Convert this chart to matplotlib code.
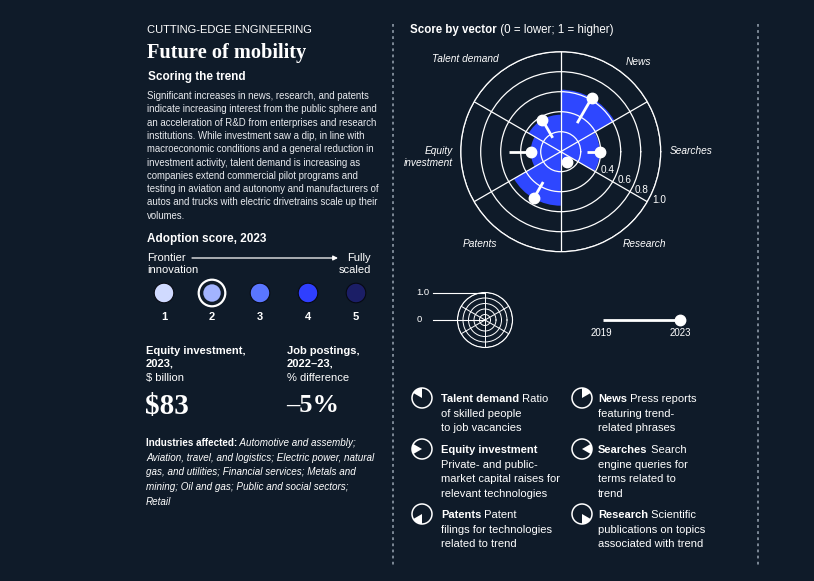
import matplotlib
matplotlib.use("Agg")
import matplotlib.pyplot as plt
import numpy as np
from matplotlib.patches import Circle, Wedge

W, H = 814, 581
BG = "#0f1b29"
BLUE = "#2e47ff"
SANS = ["Liberation Sans", "DejaVu Sans"]
SERIF = ["Liberation Serif", "DejaVu Serif"]

# --- data ---
vectors = ["Talent demand", "News", "Searches", "Research", "Patents", "Equity\ninvestment"]
vector_angles = [120, 60, 0, -60, -120, 180]          # sector centres, degrees
score_2019 = [0.16, 0.33, 0.26, 0.07, 0.35, 0.52]
score_2023 = [0.37, 0.62, 0.39, 0.12, 0.54, 0.30]
ring_values = [0.2, 0.4, 0.6, 0.8, 1.0]
ring_labels = ["0.4", "0.6", "0.8", "1.0"]

adoption_levels = [1, 2, 3, 4, 5]
adoption_colors = ["#d0daff", "#a2b4ff", "#5a76ff", "#2f3fff", "#1b1e66"]
adoption_current = 2

equity_value = "$83"
job_change = "\u20135%"

paragraph = [
    "Significant increases in news, research, and patents",
    "indicate increasing interest from the public sphere and",
    "an acceleration of R&D from enterprises and research",
    "institutions. While investment saw a dip, in line with",
    "macroeconomic conditions and a general reduction in",
    "investment activity, talent demand is increasing as",
    "companies extend commercial pilot programs and",
    "testing in aviation and autonomy and manufacturers of",
    "autos and trucks with electric drivetrains scale up their",
    "volumes.",
]
industries = [
    "Automotive and assembly;",
    "Aviation, travel, and logistics; Electric power, natural",
    "gas, and utilities; Financial services; Metals and",
    "mining; Oil and gas; Public and social sectors;",
    "Retail",
]
legend_items = [
    ("Talent demand", " Ratio", ["of skilled people", "to job vacancies"], 120),
    ("Equity investment", "", ["Private- and public-", "market capital raises for", "relevant technologies"], 180),
    ("Patents", " Patent", ["filings for technologies", "related to trend"], -120),
    ("News", " Press reports", ["featuring trend-", "related phrases"], 60),
    ("Searches", " Search", ["engine queries for", "terms related to", "trend"], 0),
    ("Research", " Scientific", ["publications on topics", "associated with trend"], -60),
]

plt.rcParams["font.family"] = SANS
fig = plt.figure(figsize=(W / 100, H / 100), dpi=100, facecolor=BG)
ax = fig.add_axes([0, 0, 1, 1])
ax.set_xlim(0, W)
ax.set_ylim(H, 0)
ax.axis("off")
ax.set_facecolor(BG)


def txt(x, y, s, size=8, weight="normal", style="normal", ha="left", color="white", family=None, **kw):
    return ax.text(x, y, s, fontsize=size, fontweight=weight, fontstyle=style, ha=ha, va="center",
                   color=color, family=family or SANS, **kw)


def after(t, s, size=8, weight="normal", style="normal"):
    return ax.annotate(s, xy=(1, 0.5), xycoords=t, ha="left", va="center", fontsize=size,
                       fontweight=weight, fontstyle=style, color="white", family=SANS)


# dashed separators
for x in (393, 757.5):
    ax.plot([x, x], [24, 565], color="#9aa6b3", lw=1.1, ls=(0, (1.8, 2.2)))

# --- left column ---
txt(147, 30, "CUTTING-EDGE ENGINEERING", size=8)
txt(147, 53, "Future of mobility", size=14.7, weight="bold", family=SERIF)
txt(148, 77, "Scoring the trend", size=8.5, weight="bold")
for i, line in enumerate(paragraph):
    txt(147, 96 + i * 13.3, line, size=6.95, color="#e8eaee")

txt(147, 239, "Adoption score, 2023", size=8.5, weight="bold")
txt(147, 258, "Frontier", size=8)
txt(147, 270, "innovation", size=8)
txt(371, 258, "Fully", size=8, ha="right")
txt(371, 270, "scaled", size=8, ha="right")
ax.annotate("", xy=(338, 258), xytext=(192, 258),
            arrowprops=dict(arrowstyle="-|>", color="white", lw=0.9, mutation_scale=7, shrinkA=0, shrinkB=0))

ax_x = [164 + 48 * (lv - 1) for lv in adoption_levels]
for x, lv, c in zip(ax_x, adoption_levels, adoption_colors):
    if lv == adoption_current:
        ax.add_patch(Circle((x, 293), 13.3, fc="none", ec="white", lw=1.6))
        ax.add_patch(Circle((x, 293), 8.7, fc=c, ec="none"))
    else:
        ax.add_patch(Circle((x, 293), 9.8, fc=c, ec="#070a12", lw=0.8))
    txt(x, 317, str(lv), size=8, weight="bold", ha="center")

txt(146, 351, "Equity investment,", size=8, weight="bold")
txt(146, 364, "2023,", size=8, weight="bold")
txt(146, 378, "$ billion", size=8)
txt(145, 406, equity_value, size=21, weight="bold", family=SERIF)
txt(287, 351, "Job postings,", size=8, weight="bold")
txt(287, 364, "2022\u201323,", size=8, weight="bold")
txt(287, 378, "% difference", size=8)
txt(286, 406, job_change, size=19, weight="bold", family=SERIF)

t = txt(146, 443, "Industries affected:", size=7.1, weight="bold")
after(t, " " + industries[0], size=7.1, style="italic")
for i, line in enumerate(industries[1:], start=1):
    txt(146, 443 + i * 14.7, line, size=7.1, style="italic")

# --- right column: radar ---
t = txt(410, 30, "Score by vector", size=8.3, weight="bold")
after(t, " (0 = lower; 1 = higher)", size=8.3)

cx, cy, R = 560.7, 151.7, 100
pax = fig.add_axes([(cx - R) / W, (H - cy - R) / H, 2 * R / W, 2 * R / H], projection="polar")
pax.set_facecolor("none")
pax.set_ylim(0, 1)
pax.set_thetagrids([30, 90, 150, 210, 270, 330], labels=[""] * 6)
pax.set_rgrids(ring_values, labels=[""] * len(ring_values))
pax.grid(True, color="white", lw=0.9)
pax.spines["polar"].set_color("white")
pax.spines["polar"].set_linewidth(0.9)
pax.set_axisbelow(False)
pax.tick_params(length=0)

theta = np.deg2rad(vector_angles)
pax.bar(theta, score_2023, width=np.pi / 3, color=BLUE, lw=0, zorder=1)
for a, s0, s1 in zip(theta, score_2019, score_2023):
    pax.plot([a, a], [s0, s1], color="white", lw=2, solid_capstyle="butt", zorder=4)
pax.plot(theta, score_2023, "o", ls="none", color="white", ms=7.5, zorder=5)
for lbl, r in zip(ring_labels, ring_values[1:]):
    pax.annotate(lbl, xy=(np.deg2rad(-30), r), xytext=(3.5, 1.5), textcoords="offset points",
                 ha="left", va="center", fontsize=7.2, color="white", annotation_clip=False)

label_pos = [(465, 59, "center"), (638, 62, "center"), (691, 151, "center"),
             (644, 244, "center"), (480, 244, "center"), (453, 157, "right")]
for name, (x, y, ha) in zip(vectors, label_pos):
    ax.text(x, y, name, fontsize=7.3, fontstyle="italic", color="white", ha=ha, va="center",
            family=SANS, multialignment="right", linespacing=1.3)

# --- small scale legend ---
sx, sy, sr = 485, 320, 27.5
sax = fig.add_axes([(sx - sr) / W, (H - sy - sr) / H, 2 * sr / W, 2 * sr / H], projection="polar")
sax.set_facecolor("none")
sax.set_ylim(0, 1)
sax.set_thetagrids([30, 90, 150, 210, 270, 330], labels=[""] * 6)
sax.set_rgrids(ring_values, labels=[""] * len(ring_values))
sax.grid(True, color="white", lw=0.7)
sax.spines["polar"].set_color("white")
sax.spines["polar"].set_linewidth(0.8)
sax.tick_params(length=0)
ax.plot([433, sx], [sy - sr, sy - sr], color="white", lw=0.8)
ax.plot([433, sx], [sy, sy], color="white", lw=0.8)
txt(423, sy - sr, "1.0", size=6.8, ha="center")
txt(419, sy, "0", size=6.8, ha="center")

# year legend
ax.plot([603, 680], [320, 320], color="white", lw=2, solid_capstyle="butt")
ax.plot([680], [320], "o", color="white", ms=7.5)
txt(601, 333, "2019", size=7, ha="center")
txt(680, 333, "2023", size=7, ha="center")

# --- vector legend ---
rows_y = [398, 449, 514]
cols = [(422, 441), (582, 598)]
for k, (bold, rest, lines, ang) in enumerate(legend_items):
    (ix, tx), y = cols[k // 3], rows_y[k % 3]
    ax.add_patch(Circle((ix, y), 10, fc="none", ec="white", lw=1.1))
    ax.add_patch(Wedge((ix, y), 10, -(ang + 30), -(ang - 30), fc="white", ec="none"))
    t = txt(tx, y + 1, bold, size=8, weight="bold")
    if rest:
        after(t, rest, size=8)
    for j, line in enumerate(lines, start=1):
        txt(tx, y + 1 + j * 14.6, line, size=8)

fig.savefig("out.png", dpi=100, facecolor=BG)
